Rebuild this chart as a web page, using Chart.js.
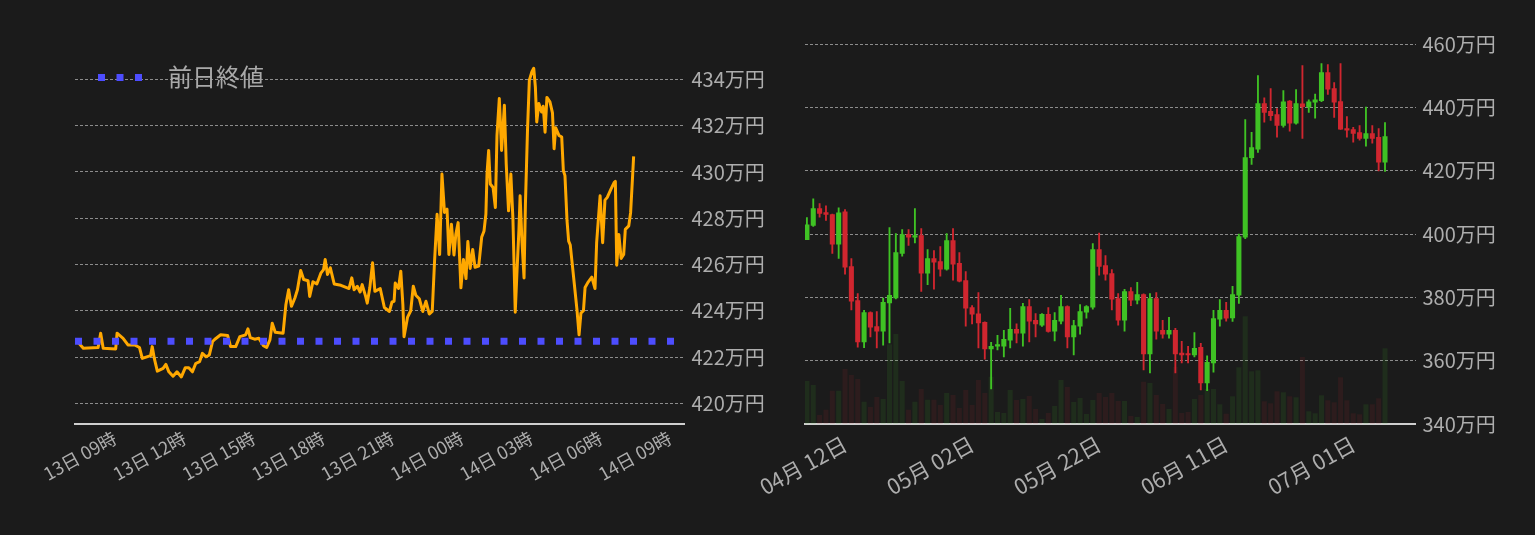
<!DOCTYPE html>
<html lang="ja">
<head>
<meta charset="utf-8">
<title>価格チャート</title>
<script src="https://cdn.jsdelivr.net/npm/chart.js@4.4.1/dist/chart.umd.min.js"></script>
<style>
  html, body { margin: 0; padding: 0; background: #1b1b1b; }
  body { width: 1535px; height: 535px; position: relative; overflow: hidden; }
  .box { position: absolute; top: 0; height: 535px; }
  #intradayBox { left: 0; width: 790px; }
  #dailyBox { left: 730px; width: 805px; }
</style>
</head>
<body>
<div class="box" id="intradayBox"><canvas id="intraday"></canvas></div>
<div class="box" id="dailyBox"><canvas id="daily"></canvas></div>
<script>
// ===== Intraday (24h) data : hours since 13日 00:00, price in 万円 =====
const prevClose = 422.68;
const timeMin = 7.27;
const timeMax = 33.63;
const timeTicks = [9, 12, 15, 18, 21, 24, 27, 30, 33];
const timeTickLabels = ["13日 09時", "13日 12時", "13日 15時", "13日 18時", "13日 21時",
  "14日 00時", "14日 03時", "14日 06時", "14日 09時"];
const priceTicks = [420, 422, 424, 426, 428, 430, 432, 434];

const priceTimes = [
  7.32, 7.63, 8.27, 8.38, 8.49, 9.03, 9.09, 9.35, 9.56, 9.85,
  10.06, 10.18, 10.54, 10.61, 10.70, 10.83, 11.08, 11.20, 11.33, 11.51,
  11.68, 11.87, 12.04, 12.19, 12.35, 12.49, 12.66, 12.78, 12.94, 13.08,
  13.22, 13.32, 13.57, 13.87, 14.00, 14.22, 14.40, 14.65, 14.75, 14.85,
  15.04, 15.22, 15.42, 15.56, 15.70, 15.80, 15.93, 16.27, 16.39, 16.51,
  16.63, 16.78, 16.89, 17.03, 17.16, 17.35, 17.42, 17.56, 17.73, 17.91,
  18.02, 18.09, 18.19, 18.31, 18.48, 18.77, 18.99, 19.12, 19.24, 19.34,
  19.48, 19.60, 19.69, 19.84, 19.91, 20.02, 20.14, 20.24, 20.47, 20.65,
  20.87, 20.98, 21.07, 21.12, 21.26, 21.36, 21.45, 21.50, 21.65, 21.79,
  21.90, 22.01, 22.16, 22.31, 22.45, 22.59, 22.72, 22.82, 22.93, 23.04,
  23.14, 23.25, 23.36, 23.44, 23.55, 23.66, 23.74, 23.84, 23.96, 24.07,
  24.18, 24.26, 24.36, 24.47, 24.57, 24.73, 24.86, 24.96, 25.04, 25.09,
  25.16, 25.23, 25.35, 25.45, 25.52, 25.62, 25.72, 25.84, 25.92, 26.02,
  26.12, 26.21, 26.31, 26.38, 26.47, 26.52, 26.60, 26.69, 26.75, 26.84,
  26.92, 27.03, 27.11, 27.18, 27.24, 27.33, 27.45, 27.52, 27.60, 27.68,
  27.81, 27.92, 27.99, 28.06, 28.20, 28.32, 28.39, 28.46, 28.55, 28.62,
  28.69, 28.77, 28.86, 28.98, 29.07, 29.15, 29.26, 29.33, 29.47, 29.62,
  29.76, 29.83, 29.98, 30.09, 30.19, 30.29, 30.45, 30.59, 30.64, 30.70,
  30.79, 30.89, 31.00, 31.07, 31.22, 31.30, 31.39, 31.43
];
const prices = [
  422.74, 422.38, 422.41, 423.03, 422.38, 422.35, 423.03, 422.81, 422.52, 422.52,
  422.41, 421.94, 422.06, 422.45, 421.94, 421.39, 421.51, 421.68, 421.36, 421.17,
  421.36, 421.14, 421.54, 421.54, 421.36, 421.72, 421.80, 422.16, 422.01, 422.09,
  422.67, 422.77, 422.96, 422.93, 422.45, 422.45, 422.88, 422.96, 423.22, 422.84,
  422.77, 422.81, 422.49, 422.41, 422.74, 423.46, 423.07, 423.03, 424.26, 424.91,
  424.19, 424.55, 424.91, 425.74, 425.35, 425.30, 424.62, 425.25, 425.16, 425.64,
  425.78, 426.22, 425.57, 425.86, 425.16, 425.10, 425.01, 424.96, 425.42, 424.91,
  425.06, 424.81, 425.13, 424.62, 424.33, 424.99, 426.07, 424.84, 424.96, 424.14,
  423.97, 424.38, 424.41, 425.20, 424.96, 425.71, 424.26, 422.88, 423.71, 424.00,
  425.06, 424.67, 424.52, 423.97, 424.41, 423.86, 423.97, 426.14, 428.17, 426.43,
  429.91, 428.25, 428.39, 426.43, 427.74, 426.41, 427.30, 427.81, 424.99, 426.22,
  425.39, 426.99, 425.83, 426.65, 425.88, 425.93, 427.19, 427.45, 428.17, 429.94,
  430.93, 429.48, 429.33, 428.46, 431.58, 433.17, 430.93, 432.88, 430.35, 428.32,
  429.91, 427.96, 423.94, 425.57, 427.52, 428.97, 427.01, 425.42, 428.61, 431.80,
  433.97, 434.33, 434.48, 433.68, 432.16, 432.96, 432.59, 432.84, 431.72, 433.22,
  433.03, 432.55, 431.00, 431.91, 431.58, 431.51, 430.06, 429.84, 427.88, 427.01,
  426.84, 426.07, 425.20, 424.04, 422.96, 423.90, 424.00, 425.01, 425.25, 425.45,
  424.96, 426.94, 428.97, 426.94, 428.78, 428.90, 429.26, 429.55, 429.59, 425.97,
  427.30, 426.26, 426.43, 427.52, 427.67, 428.25, 429.91, 430.67
];

// ===== Daily candles : day index 0 = 04月06日, price in 万円 =====
const dayTicks = [6, 26, 46, 66, 86];
const dayTickLabels = ["04月 12日", "05月 02日", "05月 22日", "06月 11日", "07月 01日"];
const dailyTicks = [340, 360, 380, 400, 420, 440, 460];

const opens = [
  398.2, 402.7, 408.0, 406.8, 406.1, 396.8, 407.0, 389.7, 379.0, 365.9,
  375.2, 370.8, 369.3, 378.2, 379.8, 393.9, 399.8, 399.0, 399.5, 387.6,
  392.2, 391.3, 388.9, 397.9, 390.7, 385.3, 376.8, 374.8, 372.1, 363.7,
  364.6, 364.6, 366.5, 369.9, 368.7, 377.1, 372.7, 371.2, 374.6, 369.3,
  372.5, 377.1, 367.5, 370.9, 375.3, 376.9, 395.1, 390.0, 387.5, 379.6,
  372.8, 381.8, 379.1, 380.9, 362.1, 379.6, 369.6, 368.4, 369.6, 362.4,
  362.1, 361.8, 364.2, 353.0, 359.3, 373.1, 375.9, 373.5, 380.7, 399.0,
  424.1, 426.8, 441.2, 438.7, 437.7, 434.3, 442.0, 435.0, 441.1, 440.1,
  441.6, 442.1, 451.0, 445.9, 441.8, 433.3, 433.0, 432.0, 430.2, 431.7,
  430.5, 422.7
];
const highs = [
  405.2, 411.1, 409.6, 408.9, 406.3, 408.3, 407.7, 392.2, 381.2, 375.9,
  375.4, 375.5, 379.8, 402.0, 400.1, 401.4, 401.4, 408.0, 401.7, 395.1,
  394.8, 396.0, 400.1, 401.7, 394.1, 388.1, 377.4, 381.5, 372.3, 365.8,
  368.0, 369.6, 376.5, 371.6, 378.1, 379.3, 374.9, 374.9, 376.8, 375.2,
  380.6, 377.3, 372.7, 377.7, 377.4, 397.0, 400.3, 393.2, 388.8, 381.2,
  382.5, 383.1, 384.7, 381.1, 381.2, 381.5, 372.7, 373.7, 370.2, 366.1,
  364.5, 368.9, 365.5, 361.5, 375.9, 379.3, 378.4, 383.5, 400.0, 436.1,
  432.1, 450.0, 443.0, 445.9, 439.6, 445.3, 442.1, 445.6, 453.2, 442.4,
  444.2, 453.8, 453.5, 447.8, 453.8, 437.1, 433.7, 434.2, 440.1, 434.2,
  433.3, 435.2
];
const lows = [
  398.2, 402.4, 405.3, 404.3, 393.9, 392.3, 387.3, 376.0, 364.3, 364.1,
  367.5, 364.0, 364.9, 365.6, 379.5, 393.0, 396.4, 397.2, 381.9, 384.0,
  382.6, 386.7, 388.6, 385.4, 384.9, 370.9, 371.6, 364.0, 360.5, 351.1,
  363.4, 361.2, 364.0, 365.6, 364.6, 365.9, 367.5, 370.8, 369.0, 366.2,
  371.6, 364.0, 361.8, 368.4, 373.4, 376.3, 387.0, 385.4, 376.0, 371.2,
  369.3, 377.4, 377.9, 357.1, 356.1, 366.8, 367.1, 367.1, 356.1, 359.3,
  359.3, 361.2, 350.8, 350.5, 356.4, 370.9, 372.5, 372.4, 378.1, 398.5,
  422.0, 425.8, 435.3, 435.9, 430.6, 433.7, 432.5, 434.7, 430.2, 438.4,
  436.6, 441.8, 444.1, 436.8, 433.0, 430.6, 429.0, 429.6, 427.7, 428.7,
  419.9, 419.8
];
const closes = [
  402.9, 408.0, 406.5, 406.2, 396.8, 406.7, 389.5, 378.8, 365.9, 375.2,
  370.6, 369.3, 378.4, 380.6, 394.1, 399.8, 399.0, 399.2, 387.6, 392.2,
  391.1, 388.9, 397.9, 390.5, 385.1, 376.6, 374.7, 371.9, 363.7, 364.5,
  364.8, 366.7, 369.9, 368.7, 377.1, 372.5, 371.6, 374.6, 369.2, 372.7,
  377.1, 367.5, 371.1, 375.5, 377.1, 395.1, 389.8, 387.3, 379.4, 372.8,
  381.8, 379.1, 380.9, 362.1, 379.6, 369.3, 368.4, 369.6, 362.1, 361.8,
  361.8, 363.9, 353.0, 359.5, 373.3, 375.9, 373.4, 380.9, 399.2, 424.1,
  427.3, 441.2, 438.4, 437.4, 434.3, 441.7, 435.0, 441.2, 440.2, 441.7,
  442.4, 451.0, 445.7, 441.6, 433.1, 432.8, 431.8, 430.2, 431.7, 430.2,
  422.7, 430.8
];
const volumes = [
  427, 387, 87, 140, 330, 330, 547, 487, 447, 220,
  167, 267, 247, 793, 897, 427, 140, 220, 347, 240,
  240, 187, 307, 287, 157, 337, 187, 437, 307, 470,
  117, 107, 337, 237, 247, 277, 147, 47, 107, 177,
  437, 367, 217, 257, 97, 237, 307, 267, 307, 227,
  227, 77, 67, 420, 407, 287, 197, 147, 567, 107,
  117, 247, 287, 347, 347, 193, 100, 273, 563, 1073,
  523, 533, 223, 203, 323, 313, 273, 263, 667, 123,
  103, 283, 233, 213, 463, 233, 103, 93, 193, 193,
  253, 753
];

// ===== Common style =====
const GREEN = "#3fc224";
const RED = "#d0262f";
const GREEN_VOL = "rgba(63,194,36,0.11)";
const RED_VOL = "rgba(208,38,47,0.10)";
const LABEL = "#adadad";
const GRID = "#8c8c8c";
const AXIS = "#cfcfcf";

Chart.defaults.font.family = "'Noto Sans CJK JP', 'Noto Sans', sans-serif";
Chart.defaults.color = LABEL;
Chart.defaults.animation = false;

// legend sample: three square dots
const legendDots = document.createElement("canvas");
legendDots.width = 60;
legendDots.height = 7;
const dctx = legendDots.getContext("2d");
dctx.fillStyle = "#4d4dff";
[2, 20.5, 39].forEach((x) => dctx.fillRect(x, 0, 7, 7));

function fixedTicks(values) {
  return (scale) => {
    scale.ticks = values.map((v) => ({ value: v }));
  };
}

// the chartArea legend is laid out from the canvas top; move it into the plot
const legendIntoPlot = {
  id: "legendIntoPlot",
  afterLayout(chart) {
    const lg = chart.legend;
    if (!lg) return;
    const dy = chart.chartArea.top;
    lg.top += dy;
    lg.bottom += dy;
  },
};

// ===== Intraday chart =====
new Chart(document.getElementById("intraday"), {
  type: "line",
  data: {
    datasets: [
      {
        label: "前日終値",
        data: [{ x: timeMin, y: prevClose }, { x: timeMax, y: prevClose }],
        borderColor: "#4d4dff",
        backgroundColor: "#4d4dff",
        borderWidth: 7,
        borderDash: [7, 11.5],
        borderCapStyle: "butt",
        pointRadius: 0,
        order: 0,
      },
      {
        label: "価格",
        data: priceTimes.map((t, i) => ({ x: t, y: prices[i] })),
        borderColor: "#ffa800",
        borderWidth: 3,
        borderJoinStyle: "round",
        pointRadius: 0,
        tension: 0,
        order: 1,
      },
    ],
  },
  plugins: [legendIntoPlot],
  options: {
    responsive: true,
    maintainAspectRatio: false,
    layout: { padding: { left: 75, top: 44, right: 0, bottom: 0 } },
    plugins: {
      tooltip: { enabled: false },
      legend: {
        position: "chartArea",
        align: "start",
        labels: {
          filter: (item) => item.datasetIndex === 0,
          usePointStyle: true,
          pointStyle: legendDots,
          pointStyleWidth: 60,
          padding: 21,
          color: "#a9a9a9",
          font: { size: 24 },
        },
      },
    },
    scales: {
      x: {
        type: "linear",
        min: timeMin,
        max: timeMax,
        grid: { display: false, drawTicks: false },
        border: { display: true, color: AXIS, width: 2 },
        ticks: {
          autoSkip: false,
          minRotation: 29,
          maxRotation: 29,
          padding: 3,
          color: LABEL,
          font: { size: 18 },
          callback: (value, index) => timeTickLabels[index],
        },
        afterBuildTicks: fixedTicks(timeTicks),
        afterFit: (scale) => {
          scale.height = 111;
          scale.paddingLeft = 0;
          scale.paddingRight = 0;
        },
      },
      y: {
        position: "right",
        min: 419.105,
        max: 435.53,
        grid: { color: GRID, lineWidth: 1, drawTicks: false },
        border: { display: false, dash: [3, 2] },
        ticks: {
          padding: 7,
          color: LABEL,
          font: { size: 20 },
          callback: (v) => v + "万円",
        },
        afterBuildTicks: fixedTicks(priceTicks),
        afterFit: (scale) => {
          scale.width = 105.5;
        },
      },
    },
  },
});

// ===== Daily candle chart =====
const candleColors = closes.map((c, i) => (c >= opens[i] ? GREEN : RED));
const volumeColors = closes.map((c, i) => (c >= opens[i] ? GREEN_VOL : RED_VOL));

new Chart(document.getElementById("daily"), {
  type: "bar",
  data: {
    datasets: [
      {
        label: "始値-終値",
        data: opens.map((o, i) => ({ x: i, y: [o, closes[i]] })),
        backgroundColor: candleColors,
        barThickness: 4.4,
        maxBarThickness: 4.4,
        minBarLength: 1.5,
        grouped: false,
        yAxisID: "y",
      },
      {
        label: "高値-安値",
        data: lows.map((l, i) => ({ x: i, y: [l, highs[i]] })),
        backgroundColor: candleColors,
        barThickness: 1.2,
        maxBarThickness: 1.2,
        grouped: false,
        yAxisID: "y",
      },
      {
        label: "出来高",
        data: volumes.map((v, i) => ({ x: i, y: v })),
        backgroundColor: volumeColors,
        barThickness: 4.4,
        maxBarThickness: 4.4,
        grouped: false,
        yAxisID: "yVol",
      },
    ],
  },
  options: {
    responsive: true,
    maintainAspectRatio: false,
    layout: { padding: { left: 75, top: 44, right: 0, bottom: 0 } },
    plugins: { legend: { display: false }, tooltip: { enabled: false } },
    scales: {
      x: {
        type: "linear",
        min: -0.3,
        max: 95.8,
        offset: false,
        grid: { display: false, drawTicks: false },
        border: { display: true, color: AXIS, width: 2 },
        ticks: {
          autoSkip: false,
          minRotation: 29,
          maxRotation: 29,
          padding: 7,
          color: LABEL,
          font: { size: 21.5 },
          callback: (value, index) => dayTickLabels[index],
        },
        afterBuildTicks: fixedTicks(dayTicks),
        afterFit: (scale) => {
          scale.height = 111;
          scale.paddingLeft = 0;
          scale.paddingRight = 0;
        },
      },
      y: {
        position: "right",
        min: 340,
        max: 460,
        grid: { color: GRID, lineWidth: 1, drawTicks: false },
        border: { display: false, dash: [3, 2] },
        ticks: {
          padding: 7,
          color: LABEL,
          font: { size: 20 },
          callback: (v) => v + "万円",
        },
        afterBuildTicks: fixedTicks(dailyTicks),
        afterFit: (scale) => {
          scale.width = 119.5;
        },
      },
      yVol: {
        type: "linear",
        position: "left",
        display: false,
        min: 0,
        max: 3800,
      },
    },
  },
});
</script>
</body>
</html>
